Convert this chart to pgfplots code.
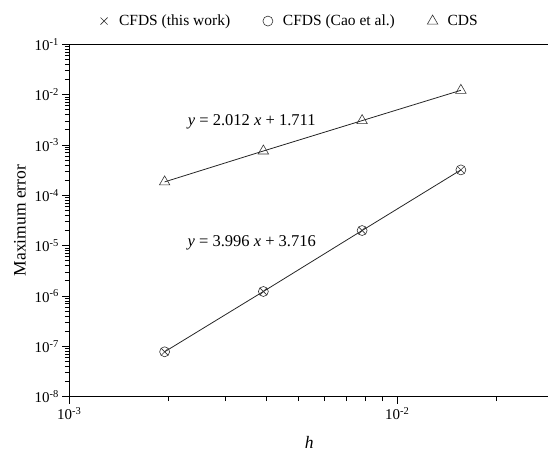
\documentclass[border=0pt]{standalone}
\usepackage{fontspec}
\setmainfont{Liberation Serif}
\usepackage{pgfplots}
\pgfplotsset{compat=1.18}

\begin{document}
\begin{tikzpicture}
\begin{axis}[
  scale only axis,
  width=479.7pt, height=352.4pt,
  xmode=log, ymode=log,
  log basis x=10, log basis y=10,
  xmin=1e-3, xmax=0.029,
  ymin=1e-8, ymax=1e-1,
  ytick={1e-8,1e-7,1e-6,1e-5,1e-4,1e-3,1e-2,1e-1},
  minor ytick={2e-8,3e-8,4e-8,5e-8,6e-8,7e-8,8e-8,9e-8,
    2e-7,3e-7,4e-7,5e-7,6e-7,7e-7,8e-7,9e-7,
    2e-6,3e-6,4e-6,5e-6,6e-6,7e-6,8e-6,9e-6,
    2e-5,3e-5,4e-5,5e-5,6e-5,7e-5,8e-5,9e-5,
    2e-4,3e-4,4e-4,5e-4,6e-4,7e-4,8e-4,9e-4,
    2e-3,3e-3,4e-3,5e-3,6e-3,7e-3,8e-3,9e-3,
    2e-2,3e-2,4e-2,5e-2,6e-2,7e-2,8e-2,9e-2},
  xtick={1e-3,1e-2},
  minor xtick={2e-3,3e-3,4e-3,5e-3,6e-3,7e-3,8e-3,9e-3,2e-2},
  axis line style={line width=1.1pt},
  xtick pos=bottom, ytick pos=left,
  xtick align=outside, ytick align=outside,
  major tick length=7pt, minor tick length=4.5pt,
  every tick/.style={black, line width=0.8pt},
  xticklabel={10\textsuperscript{\pgfmathparse{int(round(\tick))}\pgfmathresult}},
  yticklabel={10\textsuperscript{\pgfmathparse{int(round(\tick))}\pgfmathresult}},
  ticklabel style={font=\fontsize{15}{18}\selectfont},
  xlabel={\textit{h}},
  ylabel={Maximum error},
  label style={font=\fontsize{17.5}{20}\selectfont},
  xlabel style={at={(axis description cs:0.5,-0.131)}, anchor=center},
  ylabel style={at={(axis description cs:-0.103,0.5)}, anchor=center},
  legend columns=3,
  legend style={at={(0.455,1.066)}, anchor=center, draw=none, fill=none,
    font=\fontsize{15.5}{18}\selectfont,
    /tikz/every even column/.append style={column sep=27pt}},
  legend image code/.code={\draw[#1] plot coordinates {(0.3cm,0cm)}; \path (0cm,0cm) (0.75cm,0cm);},
]
% fitted lines through the points
\addplot[forget plot, line width=0.8pt, black!85] coordinates {
  (0.001953125,7.8e-8) (0.00390625,1.23e-6) (0.0078125,2.0e-5) (0.015625,3.2e-4)};
\addplot[forget plot, line width=0.8pt, black!85] coordinates {
  (0.001953125,1.85e-4) (0.00390625,7.6e-4) (0.0078125,3.05e-3) (0.015625,1.22e-2)};

\addplot[only marks, mark=x, mark size=5pt, mark options={line width=0.6pt, black!80}] coordinates {
  (0.001953125,7.8e-8) (0.00390625,1.23e-6) (0.0078125,2.0e-5) (0.015625,3.2e-4)};
\addlegendentry{CFDS (this work)}
\addplot[only marks, mark=o, mark size=5pt, mark options={line width=0.6pt, black!80}] coordinates {
  (0.001953125,7.8e-8) (0.00390625,1.23e-6) (0.0078125,2.0e-5) (0.015625,3.2e-4)};
\addlegendentry{CFDS (Cao et al.)}
\addplot[only marks, mark=triangle, mark size=6pt, mark options={line width=0.6pt, black!80}] coordinates {
  (0.001953125,1.85e-4) (0.00390625,7.6e-4) (0.0078125,3.05e-3) (0.015625,1.22e-2)};
\addlegendentry{CDS}

\node[font=\fontsize{16.5}{20}\selectfont] at (axis cs:3.6e-3,2.9e-3) {\textit{y} = 2.012 \textit{x} + 1.711};
\node[font=\fontsize{16.5}{20}\selectfont] at (axis cs:3.6e-3,1.14e-5) {\textit{y} = 3.996 \textit{x} + 3.716};
\end{axis}
\pgfresetboundingbox
\path[use as bounding box] (-69.3pt,-55.3pt) rectangle (478.7pt,396.7pt);
\end{tikzpicture}
\end{document}
